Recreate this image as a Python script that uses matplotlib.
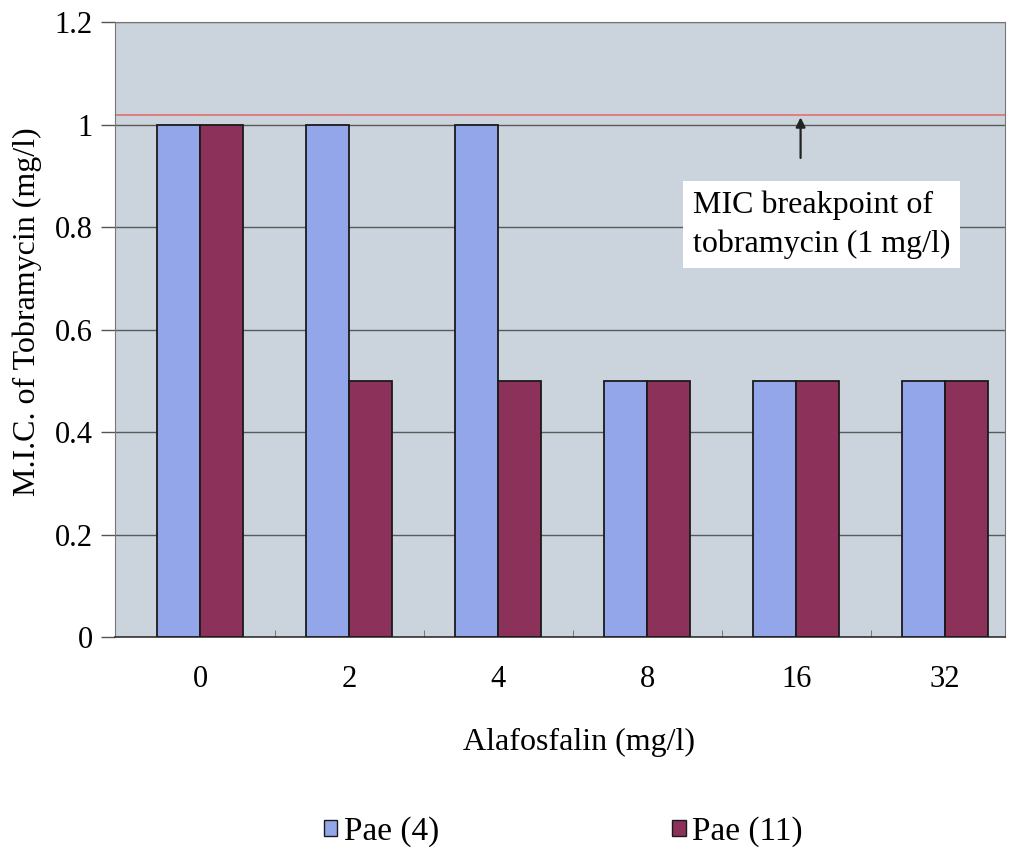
"""Tobramycin MIC vs alafosfalin bar chart."""

import matplotlib

matplotlib.use("Agg")
import matplotlib.pyplot as plt
import numpy as np
from matplotlib.patches import Patch

categories = ["0", "2", "4", "8", "16", "32"]
pae4 = [1.0, 1.0, 1.0, 0.5, 0.5, 0.5]
pae11 = [1.0, 0.5, 0.5, 0.5, 0.5, 0.5]
breakpoint = 1.02
series_names = ["Pae (4)", "Pae (11)"]

BLUE = "#93a6ea"
RED = "#8c3159"
BG = "#cbd4dd"
FS = 23

plt.rcParams["font.family"] = ["Liberation Serif", "DejaVu Serif"]

fig = plt.figure(figsize=(10.19, 8.61), dpi=100)
ax = fig.add_axes([0.113, 0.260, 0.873, 0.714])
ax.set_facecolor(BG)

x = np.arange(len(categories))
width = 0.29
ax.bar(x - width / 2, pae4, width, color=BLUE, edgecolor="#1a1a1a", linewidth=1.3, zorder=3)
ax.bar(x + width / 2, pae11, width, color=RED, edgecolor="#1a1a1a", linewidth=1.3, zorder=3)

ax.set_xlim(-0.57, 5.40)
ax.set_ylim(0, 1.2)
ax.set_yticks(np.arange(0, 1.21, 0.2), ["0", "0.2", "0.4", "0.6", "0.8", "1", "1.2"])
ax.set_xticks(x, categories)
ax.set_xticks(x[:-1] + 0.5, minor=True)
ax.tick_params(axis="x", which="major", length=0, pad=20, labelsize=22)
ax.tick_params(axis="x", which="minor", direction="in", length=5, color="#666666")
ax.tick_params(axis="y", length=10, width=1, color="#555555", pad=6, labelsize=22)
ax.yaxis.grid(True, color="#5a5a5a", linewidth=1.0)
ax.set_axisbelow(True)
for side in ["top", "right", "left"]:
    ax.spines[side].set_color("#777777")
ax.spines["bottom"].set_color("#333333")
ax.spines["bottom"].set_linewidth(1.2)

ax.axhline(breakpoint, color="#e07070", linewidth=1.2, zorder=2)
ax.annotate(
    "",
    xy=(4.03, breakpoint),
    xytext=(4.03, 0.93),
    arrowprops=dict(arrowstyle="-|>", color="#222222", lw=1.6, mutation_scale=14),
    zorder=4,
)
ax.text(
    3.305,
    0.805,
    "MIC breakpoint of\ntobramycin (1 mg/l)",
    fontsize=FS,
    ha="left",
    va="center",
    linespacing=1.4,
    bbox=dict(boxstyle="square,pad=0.3", facecolor="white", edgecolor="none"),
    zorder=5,
)

ax.set_ylabel("M.I.C. of Tobramycin (mg/l)", fontsize=FS)
ax.yaxis.set_label_coords(-0.082, 0.53)
ax.set_xlabel("Alafosfalin (mg/l)", fontsize=FS)
ax.xaxis.set_label_coords(0.521, -0.148)

handles = [
    Patch(facecolor=BLUE, edgecolor="#1a1a1a", label=series_names[0]),
    Patch(facecolor=RED, edgecolor="#1a1a1a", label=series_names[1]),
]
fig.legend(
    handles=handles,
    loc="center",
    bbox_to_anchor=(0.553, 0.034),
    ncol=2,
    frameon=False,
    fontsize=24,
    handlelength=0.4,
    handleheight=0.4,
    handletextpad=0.2,
    columnspacing=7.0,
)

fig.savefig("out.png", dpi=100)
